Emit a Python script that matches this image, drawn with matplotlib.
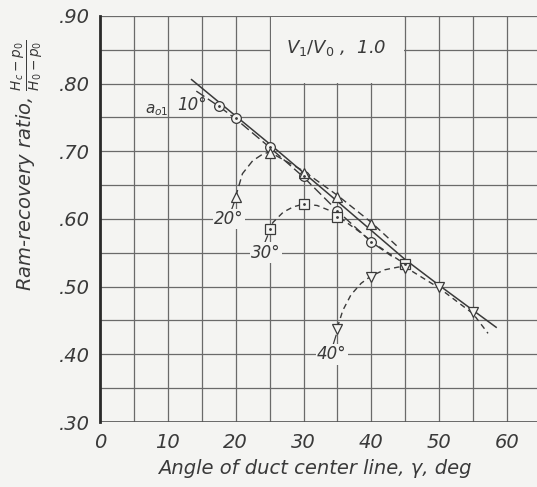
import matplotlib
matplotlib.use("Agg")
import matplotlib.pyplot as plt
from matplotlib.patches import Rectangle
from matplotlib.ticker import MultipleLocator, FixedLocator

# ---------------- data ----------------
x_ticks = [0, 10, 20, 30, 40, 50, 60]
y_ticks = [0.30, 0.40, 0.50, 0.60, 0.70, 0.80, 0.90]
y_tick_labels = [".30", ".40", ".50", ".60", ".70", ".80", ".90"]

# alpha_01 = 10 deg (circles)
x10 = [17.6, 20.0, 25.0, 30.0, 35.0, 40.0]
y10 = [0.767, 0.749, 0.707, 0.664, 0.612, 0.566]
# alpha_01 = 20 deg (triangles up)
x20 = [20.0, 25.0, 30.0, 35.0, 40.0]
y20 = [0.633, 0.698, 0.668, 0.633, 0.593]
# alpha_01 = 30 deg (squares)
x30 = [25.0, 30.0, 35.0, 45.0]
y30 = [0.585, 0.622, 0.603, 0.533]
# alpha_01 = 40 deg (triangles down)
x40 = [35.0, 40.0, 45.0, 50.0, 55.0]
y40 = [0.438, 0.515, 0.528, 0.500, 0.463]

# faired curves
env_x = [13.5, 25.0, 35.0, 45.0, 50.0, 55.0, 58.4]
env_y = [0.806, 0.711, 0.626, 0.540, 0.502, 0.465, 0.440]
c10_x = [14.2, 17.6, 20.0, 25.0, 30.0, 35.0, 40.0, 43.0]
c10_y = [0.789, 0.766, 0.748, 0.706, 0.662, 0.612, 0.566, 0.545]
c20_x = [20.0, 21.0, 22.5, 24.0, 25.0, 30.0, 35.0, 40.0, 44.0]
c20_y = [0.633, 0.667, 0.686, 0.696, 0.699, 0.671, 0.635, 0.595, 0.558]
c30_x = [24.8, 25.5, 27.0, 28.5, 30.0, 32.0, 34.0, 35.5, 38.0, 41.0, 45.0]
c30_y = [0.580, 0.595, 0.610, 0.618, 0.622, 0.620, 0.612, 0.601, 0.583, 0.560, 0.533]
c40_x = [35.0, 35.8, 37.0, 38.5, 40.0, 42.0, 44.0, 45.0, 50.0, 55.0, 57.2]
c40_y = [0.440, 0.465, 0.488, 0.505, 0.516, 0.525, 0.529, 0.529, 0.498, 0.460, 0.431]

bg = "#f4f4f2"
ink = "#3a3a3a"

fig = plt.figure(figsize=(5.37, 4.87), dpi=100, facecolor=bg)
ax = fig.add_axes([100 / 537, 1 - 422 / 487, (537 - 100) / 537, (422 - 16) / 487])
ax.set_facecolor(bg)
ax.set_xlim(0, (537 - 100) / (407 / 60))
ax.set_ylim(0.30, 0.90)

ax.xaxis.set_major_locator(FixedLocator(x_ticks))
ax.xaxis.set_minor_locator(MultipleLocator(5))
ax.yaxis.set_major_locator(FixedLocator(y_ticks))
ax.yaxis.set_minor_locator(MultipleLocator(0.05))
ax.set_yticklabels(y_tick_labels)
ax.set_xticklabels([str(v) for v in x_ticks])
ax.tick_params(which="both", length=0)
ax.tick_params(axis="x", pad=8, labelsize=14, labelcolor=ink)
ax.tick_params(axis="y", pad=7, labelsize=14, labelcolor=ink)
for lab in ax.get_xticklabels() + ax.get_yticklabels():
    lab.set_fontstyle("italic")
ax.set_axisbelow(True)
ax.grid(which="both", color="#6a6a6a", linewidth=0.9)

for s in ["top", "right", "bottom"]:
    ax.spines[s].set_visible(False)
ax.spines["left"].set_color("#2a2a2a")
ax.spines["left"].set_linewidth(2.0)
ax.axhline(0.30, color="#555555", linewidth=1.2, zorder=1)

# blank box for the label
ax.add_patch(Rectangle((25.15, 0.8015), 19.7, 0.097, facecolor=bg, edgecolor="none", zorder=1))
ax.text(34.8, 0.853, r"$V_1/V_0$ ,  1.0", fontsize=13, color=ink, ha="center", va="center",
        style="italic", zorder=3)

lw = 1.0
ax.plot(env_x, env_y, color=ink, linewidth=1.1, zorder=2)
ax.plot(c10_x, c10_y, color=ink, linewidth=lw, linestyle=(0, (7, 3)), zorder=2)
ax.plot(c20_x, c20_y, color=ink, linewidth=lw, linestyle=(0, (5, 3)), zorder=2)
ax.plot(c30_x, c30_y, color=ink, linewidth=lw, linestyle=(0, (4, 3)), zorder=2)
ax.plot(c40_x, c40_y, color=ink, linewidth=lw, linestyle=(0, (4, 3)), zorder=2)

mk = dict(linestyle="none", markersize=7, markerfacecolor=bg, markeredgecolor=ink,
          markeredgewidth=0.9, zorder=4)
ax.plot(x10, y10, marker="o", **mk)
ax.plot(x10, y10, linestyle="none", marker=".", markersize=2, color=ink, zorder=5)
ax.plot(x20, y20, marker="^", **mk)
ax.plot(x30, y30, marker="s", **mk)
ax.plot(x30, y30, linestyle="none", marker=".", markersize=2, color=ink, zorder=5)
ax.plot(x40, y40, marker="v", **mk)

# leader lines for labels
ax.plot([19.8, 19.3], [0.625, 0.611], color=ink, linewidth=0.9, zorder=2)
ax.plot([24.7, 24.0], [0.575, 0.558], color=ink, linewidth=0.9, zorder=2)
ax.plot([34.8, 34.3], [0.428, 0.412], color=ink, linewidth=0.9, zorder=2)

box = dict(facecolor=bg, edgecolor="none", pad=1.0)
ax.text(13.6, 0.768, "10°", fontsize=12, color=ink, style="italic", ha="center", va="center", zorder=3)
ax.text(19.0, 0.600, "20°", fontsize=12, color=ink, style="italic", ha="center", va="center",
        bbox=box, zorder=3)
ax.text(24.5, 0.550, "30°", fontsize=12, color=ink, style="italic", ha="center", va="center",
        bbox=box, zorder=3)
ax.text(34.2, 0.400, "40°", fontsize=12, color=ink, style="italic", ha="center", va="center",
        bbox=box, zorder=3)
ax.text(8.3, 0.761, r"$a_{o1}$", fontsize=11, color=ink, ha="center", va="center", zorder=3)

fig.text(0.052, 0.66, r"Ram-recovery ratio, $\frac{H_c-p_0}{H_0-p_0}$", rotation=90,
         fontsize=14, color=ink, style="italic", ha="center", va="center")
fig.text(315 / 537, 1 - 468 / 487, "Angle of duct center line, γ, deg", fontsize=14,
         color=ink, style="italic", ha="center", va="center")

fig.savefig("out.png", dpi=100, facecolor=bg)
